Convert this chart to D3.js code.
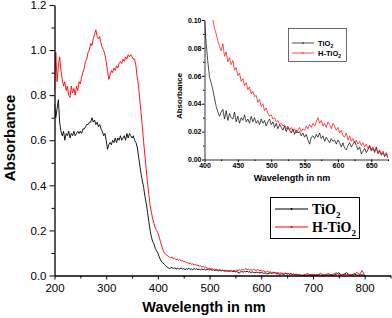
<!DOCTYPE html>
<html>
<head>
<meta charset="utf-8">
<script src="https://cdn.jsdelivr.net/npm/d3@7"></script>
<style>
  body { margin: 0; background: #fff; }
  svg { display: block; }
  .tick text { font-family: Arial, "Liberation Sans", sans-serif; }
</style>
</head>
<body>
<div id="chart"></div>
<script>
// wavelength grids (nm)
var wlUV = d3.range(200, 400, 2.5);     // 200..397.5
var wlVis = d3.range(400, 677.5, 2.5);  // 400..675
var wlNIR = d3.range(680, 805, 5);      // 680..800

// TiO2 absorbance
var tio2UV = [
  .76,.70,.74,.78,.68,.64,.62,.64,.60,.63,
  .62,.64,.61,.63,.62,.64,.62,.63,.64,.63,
  .64,.63,.65,.65,.66,.67,.67,.68,.68,.70,
  .68,.69,.67,.68,.66,.67,.65,.64,.62,.63,
  .60,.56,.58,.59,.58,.60,.59,.61,.59,.61,
  .60,.62,.60,.61,.62,.60,.63,.61,.63,.62,
  .61,.62,.60,.59,.57,.53,.49,.45,.42,.39,
  .35,.32,.28,.24,.20,.17,.15,.14,.12,.11
];
var tio2Vis = [
  .100,.083,.070,.059,.055,.050,.044,.038,.034,.031,
  .034,.036,.029,.035,.028,.033,.030,.029,.034,.027,
  .031,.026,.030,.028,.032,.027,.029,.026,.031,.027,
  .030,.026,.028,.025,.029,.026,.028,.024,.027,.029,
  .025,.027,.023,.026,.022,.025,.023,.021,.024,.020,
  .023,.021,.019,.022,.018,.021,.019,.020,.017,.019,
  .016,.018,.014,.011,.016,.017,.015,.018,.016,.019,
  .015,.017,.013,.016,.014,.012,.015,.013,.014,.011,
  .014,.012,.009,.012,.008,.007,.010,.012,.009,.011,
  .013,.010,.007,.009,.004,.006,.008,.005,.007,.010,
  .006,.008,.005,.009,.004,.006,.003,.005,.002,.004,
  .001
];
var tio2NIR = [
  .000,.002,.001,.003,.001,.002,.004,.001,.002,.001,
  .003,.002,.001,.005,.012,.002,.004,.013,.003,.002,
  .008,.001,.002,.003,.001
];

// H-TiO2 absorbance
var htio2UV = [
  .82,.99,.86,.93,.97,.91,.87,.84,.86,.82,
  .84,.80,.79,.84,.81,.83,.80,.84,.82,.86,
  .85,.88,.90,.92,.95,.96,.99,1.00,1.03,1.02,
  1.05,1.07,1.09,1.06,1.05,1.06,1.03,1.01,1.00,.98,
  .95,.91,.87,.89,.91,.90,.92,.91,.93,.92,
  .94,.95,.94,.96,.95,.97,.96,.98,.97,.98,
  .97,.96,.96,.93,.88,.84,.78,.72,.66,.59,
  .53,.47,.41,.36,.31,.28,.25,.23,.21,.20
];
var htio2Vis = [
  .190,.170,.150,.130,.112,.100,.094,.090,.085,.081,
  .078,.083,.074,.077,.070,.073,.068,.071,.064,.066,
  .060,.062,.056,.058,.053,.055,.050,.052,.047,.049,
  .045,.046,.041,.043,.038,.040,.035,.037,.033,.031,
  .032,.029,.030,.027,.028,.025,.026,.024,.025,.022,
  .024,.021,.023,.020,.022,.019,.021,.023,.020,.022,
  .021,.024,.022,.025,.023,.026,.024,.027,.030,.026,
  .028,.024,.026,.023,.027,.025,.022,.026,.024,.021,
  .023,.019,.021,.017,.016,.019,.014,.017,.013,.015,
  .012,.014,.011,.013,.010,.012,.009,.011,.008,.010,
  .007,.009,.006,.008,.005,.007,.004,.006,.003,.005,
  .002
];
var htio2NIR = [
  .002,.004,.009,.002,.006,.001,.003,.010,.002,.005,
  .008,.003,.006,.012,.004,.002,.007,.003,.005,.002,
  .004,.014,.004,.022,.000
];

var mainXTicks = [200, 300, 400, 500, 600, 700, 800];
var mainYTicks = [0, 0.2, 0.4, 0.6, 0.8, 1.0, 1.2];
var insetXTicks = [400, 450, 500, 550, 600, 650];
var insetYTicks = [0, 0.02, 0.04, 0.06, 0.08, 0.10];

var seriesNames = ["TiO", "H-TiO"];
var seriesColors = ["#000000", "#ff0000"];

var wl = wlUV.concat(wlVis, wlNIR);
var series = [
  d3.zip(wl, tio2UV.concat(tio2Vis, tio2NIR)),
  d3.zip(wl, htio2UV.concat(htio2Vis, htio2NIR))
];

var width = 392, height = 318;
var svg = d3.select("#chart").append("svg")
  .attr("width", width).attr("height", height);

// ---------- main plot ----------
var x = d3.scaleLinear().domain([200, 850]).range([54.5, 390.5]);
var y = d3.scaleLinear().domain([0, 1.2]).range([275.5, 5]);

svg.append("clipPath").attr("id", "clipMain")
  .append("rect").attr("x", 54.5).attr("y", 0).attr("width", 337).attr("height", 276);

var line = d3.line().x(function(d){ return x(d[0]); }).y(function(d){ return y(d[1]); });

svg.append("g").attr("clip-path", "url(#clipMain)")
  .selectAll("path").data(series).enter().append("path")
  .attr("d", line)
  .attr("fill", "none")
  .attr("stroke", function(d, i){ return seriesColors[i]; })
  .attr("stroke-width", 0.9);

// minor ticks first, then major axis with labels
svg.append("g").attr("transform", "translate(0,275.5)")
  .call(d3.axisBottom(x).tickValues(d3.range(250, 851, 100)).tickSize(3).tickFormat(""))
  .call(function(g){ g.select(".domain").remove(); });
var xAxis = svg.append("g").attr("transform", "translate(0,275.5)")
  .call(d3.axisBottom(x).tickValues(mainXTicks).tickSize(4).tickSizeOuter(0).tickFormat(d3.format("d")));
xAxis.selectAll("text").attr("font-size", 11.5).attr("dy", "0.75em").attr("y", 8);

svg.append("g").attr("transform", "translate(54.5,0)")
  .call(d3.axisLeft(y).tickValues(d3.range(0.1, 1.2, 0.2)).tickSize(3).tickFormat(""))
  .call(function(g){ g.select(".domain").remove(); });
var yAxis = svg.append("g").attr("transform", "translate(54.5,0)")
  .call(d3.axisLeft(y).tickValues(mainYTicks).tickSize(5).tickSizeOuter(0).tickFormat(d3.format(".1f")));
yAxis.selectAll("text").attr("font-size", 11.5).attr("x", -8);

svg.selectAll(".domain").attr("stroke-width", 1.3);

svg.append("text")
  .attr("x", 204).attr("y", 312)
  .attr("text-anchor", "middle")
  .attr("font-family", "Arial, 'Liberation Sans', sans-serif")
  .attr("font-weight", "bold").attr("font-size", 14.5)
  .text("Wavelength in nm");

svg.append("text")
  .attr("transform", "translate(15,138) rotate(-90)")
  .attr("text-anchor", "middle")
  .attr("font-family", "Arial, 'Liberation Sans', sans-serif")
  .attr("font-weight", "bold").attr("font-size", 15)
  .text("Absorbance");

// main legend
var leg = svg.append("g");
leg.append("rect").attr("x", 270.5).attr("y", 197.5).attr("width", 89).attr("height", 41)
  .attr("fill", "#fff").attr("stroke", "#000").attr("stroke-width", 1);
seriesNames.forEach(function(name, i){
  var ly = 209 + i * 18;
  leg.append("line").attr("x1", 275).attr("x2", 308).attr("y1", ly).attr("y2", ly)
    .attr("stroke", seriesColors[i]).attr("stroke-width", 1);
  leg.append("circle").attr("cx", 291.5).attr("cy", ly).attr("r", 1)
    .attr("fill", seriesColors[i]);
  var t = leg.append("text").attr("x", 312).attr("y", ly + 4.5)
    .attr("font-family", "'Times New Roman', 'Liberation Serif', serif")
    .attr("font-weight", "bold").attr("font-size", 14).text(name);
  t.append("tspan").attr("font-size", 9).attr("dy", 4).text("2");
});

// ---------- inset ----------
var ix = d3.scaleLinear().domain([400, 675]).range([204.5, 388]);
var iy = d3.scaleLinear().domain([0, 0.10]).range([159.5, 20]);

svg.append("clipPath").attr("id", "clipInset")
  .append("rect").attr("x", 204.5).attr("y", 20).attr("width", 184).attr("height", 140);

var iline = d3.line().x(function(d){ return ix(d[0]); }).y(function(d){ return iy(d[1]); });

svg.append("g").attr("clip-path", "url(#clipInset)")
  .selectAll("path").data(series.map(function(s){
    return s.filter(function(d){ return d[0] >= 400 && d[0] <= 675; });
  })).enter().append("path")
  .attr("d", iline)
  .attr("fill", "none")
  .attr("stroke", function(d, i){ return seriesColors[i]; })
  .attr("stroke-width", 0.7);

svg.append("g").attr("transform", "translate(0,159.5)")
  .call(d3.axisBottom(ix).tickValues(d3.range(425, 676, 50)).tickSize(1.5).tickFormat(""))
  .call(function(g){ g.select(".domain").remove(); });
var ixAxis = svg.append("g").attr("transform", "translate(0,159.5)")
  .call(d3.axisBottom(ix).tickValues(insetXTicks).tickSize(2.5).tickSizeOuter(0).tickFormat(d3.format("d")));
ixAxis.selectAll("text").attr("font-size", 7).attr("font-weight", "bold").attr("y", 4);

svg.append("g").attr("transform", "translate(204.5,0)")
  .call(d3.axisLeft(iy).tickValues(d3.range(0.01, 0.1, 0.02)).tickSize(1.5).tickFormat(""))
  .call(function(g){ g.select(".domain").remove(); });
var iyAxis = svg.append("g").attr("transform", "translate(204.5,0)")
  .call(d3.axisLeft(iy).tickValues(insetYTicks).tickSize(2.5).tickSizeOuter(0).tickFormat(d3.format(".2f")));
iyAxis.selectAll("text").attr("font-size", 7).attr("font-weight", "bold").attr("x", -3);

ixAxis.select(".domain").attr("stroke-width", 0.8);
iyAxis.select(".domain").attr("stroke-width", 0.8);

svg.append("text")
  .attr("x", 292).attr("y", 181)
  .attr("text-anchor", "middle")
  .attr("font-family", "Arial, 'Liberation Sans', sans-serif")
  .attr("font-weight", "bold").attr("font-size", 9)
  .text("Wavelength in nm");

svg.append("text")
  .attr("transform", "translate(182,96) rotate(-90)")
  .attr("text-anchor", "middle")
  .attr("font-family", "Arial, 'Liberation Sans', sans-serif")
  .attr("font-weight", "bold").attr("font-size", 8)
  .text("Absorbance");

// inset legend
var ileg = svg.append("g");
ileg.append("rect").attr("x", 288.5).attr("y", 28.5).attr("width", 58).attr("height", 33)
  .attr("fill", "#fff").attr("stroke", "#444").attr("stroke-width", 0.8);
seriesNames.forEach(function(name, i){
  var ly = 43 + i * 10;
  ileg.append("line").attr("x1", 292).attr("x2", 314).attr("y1", ly).attr("y2", ly)
    .attr("stroke", seriesColors[i]).attr("stroke-width", 0.7);
  ileg.append("circle").attr("cx", 303).attr("cy", ly).attr("r", 0.7)
    .attr("fill", seriesColors[i]);
  var t = ileg.append("text").attr("x", 318).attr("y", ly + 2.5)
    .attr("font-family", "Arial, 'Liberation Sans', sans-serif")
    .attr("font-weight", "bold").attr("font-size", 7.5).text(name);
  t.append("tspan").attr("font-size", 5).attr("dy", 2).text("2");
});
</script>
</body>
</html>
